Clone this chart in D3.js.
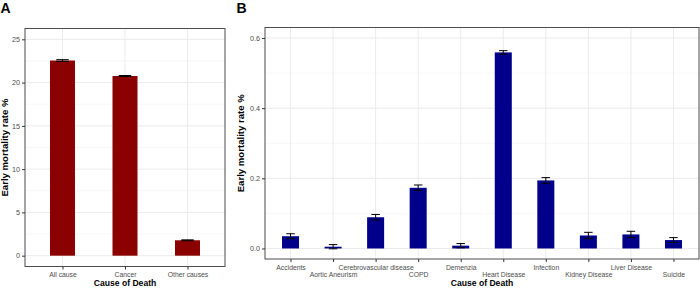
<!DOCTYPE html>
<html>
<head>
<meta charset="utf-8">
<script src="https://d3js.org/d3.v7.min.js"></script>
<style>
  body { margin: 0; background: #fff; }
  svg { display: block; font-family: "Liberation Sans", Arial, sans-serif; }
</style>
</head>
<body>
<script>
// panel A data
var causesA = ['All cause', 'Cancer', 'Other causes'];
var ratesA = [22.55, 20.76, 1.78];
var errA = [0.1, 0.06, 0.05];
var ticksA = [0, 5, 10, 15, 20, 25];
var minorA = [2.5, 7.5, 12.5, 17.5, 22.5];

// panel B data
var causesB = ['Accidents', 'Aortic Aneurism', 'Cerebrovascular disease', 'COPD', 'Demenzia',
  'Heart Disease', 'Infection', 'Kidney Disease', 'Liver Disease', 'Suicide'];
var ratesB = [0.035, 0.005, 0.089, 0.173, 0.008, 0.559, 0.194, 0.037, 0.040, 0.024];
var errB = [0.007, 0.006, 0.008, 0.008, 0.006, 0.005, 0.008, 0.009, 0.009, 0.007];
var ticksB = [0, 0.2, 0.4, 0.6];
var minorB = [0.1, 0.3, 0.5];

var width = 700, height = 288;

var svg = d3.select('body').append('svg')
  .attr('width', width)
  .attr('height', height);

function drawPanel(opt) {
  var x = d3.scalePoint()
    .domain(opt.cats)
    .range([opt.left, opt.right])
    .padding(0.6);
  var step = x.step();

  var y = d3.scaleLinear()
    .domain(opt.ydomain)
    .range([opt.bottom, opt.top]);

  var g = svg.append('g');

  // minor grid
  g.selectAll('.minor')
    .data(opt.minor)
    .enter().append('line')
    .attr('x1', opt.left).attr('x2', opt.right)
    .attr('y1', function(d) { return y(d); })
    .attr('y2', function(d) { return y(d); })
    .attr('stroke', '#f2f2f2')
    .attr('stroke-width', 0.6);

  // major grid
  g.selectAll('.major')
    .data(opt.ticks)
    .enter().append('line')
    .attr('x1', opt.left).attr('x2', opt.right)
    .attr('y1', function(d) { return y(d); })
    .attr('y2', function(d) { return y(d); })
    .attr('stroke', '#ebebeb')
    .attr('stroke-width', 1);

  g.selectAll('.vgrid')
    .data(opt.cats)
    .enter().append('line')
    .attr('x1', function(d) { return x(d); })
    .attr('x2', function(d) { return x(d); })
    .attr('y1', opt.top).attr('y2', opt.bottom)
    .attr('stroke', '#ebebeb')
    .attr('stroke-width', 1);

  // bars
  g.selectAll('.bar')
    .data(opt.values)
    .enter().append('rect')
    .attr('x', function(d, i) { return x(opt.cats[i]) - step * 0.2; })
    .attr('width', step * 0.4)
    .attr('y', function(d) { return y(d); })
    .attr('height', function(d) { return y(0) - y(d); })
    .attr('fill', opt.color);

  // error bars
  var eb = g.selectAll('.err')
    .data(opt.values)
    .enter().append('g')
    .attr('stroke', '#000')
    .attr('stroke-width', 1);

  eb.append('line')
    .attr('x1', function(d, i) { return x(opt.cats[i]); })
    .attr('x2', function(d, i) { return x(opt.cats[i]); })
    .attr('y1', function(d, i) { return y(d - opt.err[i]); })
    .attr('y2', function(d, i) { return y(d + opt.err[i]); });
  eb.append('line')
    .attr('x1', function(d, i) { return x(opt.cats[i]) - step * 0.1; })
    .attr('x2', function(d, i) { return x(opt.cats[i]) + step * 0.1; })
    .attr('y1', function(d, i) { return y(d + opt.err[i]); })
    .attr('y2', function(d, i) { return y(d + opt.err[i]); });
  eb.append('line')
    .attr('x1', function(d, i) { return x(opt.cats[i]) - step * 0.1; })
    .attr('x2', function(d, i) { return x(opt.cats[i]) + step * 0.1; })
    .attr('y1', function(d, i) { return y(d - opt.err[i]); })
    .attr('y2', function(d, i) { return y(d - opt.err[i]); });

  // border
  g.append('rect')
    .attr('x', opt.left).attr('y', opt.top)
    .attr('width', opt.right - opt.left)
    .attr('height', opt.bottom - opt.top)
    .attr('fill', 'none')
    .attr('stroke', '#4d4d4d')
    .attr('stroke-width', 1);

  // y axis
  var yAxis = g.append('g')
    .attr('transform', 'translate(' + opt.left + ',0)')
    .call(d3.axisLeft(y).tickValues(opt.ticks).tickFormat(opt.fmt).tickSize(3).tickPadding(2));
  yAxis.select('.domain').remove();
  yAxis.selectAll('line').attr('stroke', '#333');
  yAxis.selectAll('text')
    .attr('fill', '#4d4d4d')
    .style('font-size', '7.2px');

  // x axis, B uses two rows of labels
  var xAxis = g.append('g')
    .attr('transform', 'translate(0,' + opt.bottom + ')')
    .call(d3.axisBottom(x).tickSize(3).tickPadding(2));
  xAxis.select('.domain').remove();
  xAxis.selectAll('line').attr('stroke', '#333');
  xAxis.selectAll('text')
    .attr('fill', '#4d4d4d')
    .style('font-size', '6.8px')
    .attr('dy', function(d, i) { return opt.dodge && i % 2 == 1 ? '1.95em' : '0.85em'; });

  // titles
  g.append('text')
    .attr('x', (opt.left + opt.right) / 2)
    .attr('y', 286)
    .attr('text-anchor', 'middle')
    .style('font-size', '8.6px')
    .style('font-weight', 'bold')
    .text('Cause of Death');

  g.append('text')
    .attr('transform', 'translate(' + opt.ytitleX + ',' + (opt.top + opt.bottom) / 2 + ') rotate(-90)')
    .attr('text-anchor', 'middle')
    .style('font-size', '9.6px')
    .style('font-weight', 'bold')
    .text('Early mortality rate %');

  g.append('text')
    .attr('x', opt.tagX)
    .attr('y', 12.5)
    .style('font-size', '14px')
    .style('font-weight', 'bold')
    .text(opt.tag);
}

drawPanel({
  cats: causesA, values: ratesA, err: errA,
  ticks: ticksA, minor: minorA, fmt: d3.format('d'),
  ydomain: [-1.25, 26.25],
  left: 25, right: 225, top: 28.5, bottom: 266.5,
  color: '#8b0000', dodge: false,
  ytitleX: 7.5, tag: 'A', tagX: 0.5
});

drawPanel({
  cats: causesB, values: ratesB, err: errB,
  ticks: ticksB, minor: minorB, fmt: d3.format('.1f'),
  ydomain: [-0.03, 0.63],
  left: 265, right: 699, top: 27.5, bottom: 259,
  color: '#00008b', dodge: true,
  ytitleX: 243.5, tag: 'B', tagX: 236.5
});
</script>
</body>
</html>
